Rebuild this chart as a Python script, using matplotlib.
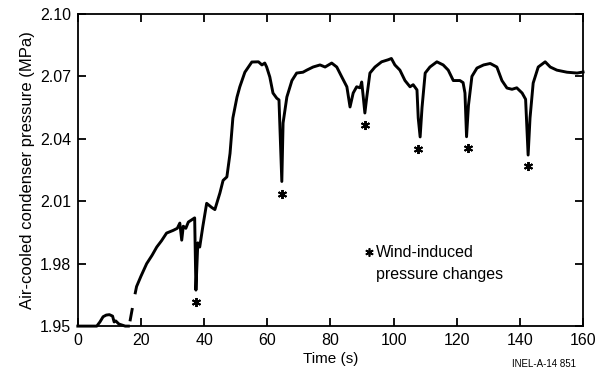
import numpy as np
import matplotlib.pyplot as plt

plt.rcParams['font.family'] = ['Liberation Sans', 'DejaVu Sans']

# time (s) and pressure (MPa); nan marks gaps in the scan
time_s = [0, 3, 6, 7, 8, 9, 10, 11, 11.5, 12, 13, 14, 15, 16,
          np.nan, 16.6, 17.2, np.nan, 18.2, 18.6,
          20, 21.8, 23.5, 25, 26.5, 28.1, 30.2, 31.5, 32.3, 32.9, 33.4, 34.2, 35, 36, 37, 37.4,
          38, 38.6, 39.6, 40.8, 42.4, 43.4, 45, 46, 47.2, 48.2, 49.1, 50.4, 51.3, 52.9,
          55.1, 57.2, 58.3, 59.2, 59.8, 60.8, 61.8, 63, 63.7, 64.6, 65, 66.2, 67.8, 69.3,
          71.3, 72.5, 74.5, 76.7, 78.3, 80.4, 82, 83.6, 85.2, 86.2, 87.2, 88.3, 89.4,
          89.9, 90.4, 90.9, 91.5, 92.5, 94.1, 96.2, 98.3, 99.3, 100.4, 102, 103.6, 105.2,
          106.2, 107.4, 107.8, 108.4, 109, 110, 111.5, 113.7, 115.7, 117.3, 118.9, 121,
          122, 122.6, 123.1, 123.7, 124.8, 126.4, 128.5, 130.6, 132.7, 134.3, 135.9,
          137.5, 139, 140.7, 141.8, 142.6, 143.2, 144.2, 145.8, 148, 149.6, 151.7, 154.9,
          158.1, 160]
pressure = [1.950, 1.950, 1.950, 1.952, 1.9545, 1.9553, 1.9555, 1.9548, 1.952, 1.9525, 1.951, 1.9505, 1.950, 1.950,
            np.nan, 1.953, 1.958, np.nan, 1.966, 1.969,
            1.974, 1.980, 1.984, 1.988, 1.991, 1.9947, 1.996, 1.997, 1.9995, 1.9913, 1.998, 1.997, 2.000, 2.001, 2.002, 1.9673,
            1.990, 1.988, 1.998, 2.009, 2.007, 2.006, 2.014, 2.020, 2.0217, 2.033, 2.050, 2.060, 2.065, 2.072,
            2.0769, 2.077, 2.0755, 2.0764, 2.0745, 2.0697, 2.062, 2.0595, 2.0587, 2.0195, 2.0476, 2.0601, 2.068, 2.0716,
            2.072, 2.073, 2.0745, 2.0755, 2.0745, 2.0764, 2.0745, 2.0697, 2.065, 2.0553, 2.062, 2.065, 2.0645,
            2.0673, 2.060, 2.0524, 2.060, 2.0716, 2.0745, 2.077, 2.078, 2.0786, 2.0755, 2.073, 2.068, 2.065,
            2.066, 2.0635, 2.050, 2.0409, 2.055, 2.0716, 2.0745, 2.077, 2.0755, 2.073, 2.068, 2.068,
            2.067, 2.062, 2.041, 2.056, 2.070, 2.074, 2.0755, 2.0762, 2.0745, 2.068, 2.0644,
            2.0638, 2.0645, 2.062, 2.059, 2.0322, 2.050, 2.0668, 2.0745, 2.077, 2.0745, 2.073, 2.072,
            2.0716, 2.0721]

# asterisks below each wind-induced dip
star_t = [37.4, 64.6, 90.9, 107.8, 123.5, 142.7]
star_p = [1.9615, 2.0135, 2.0466, 2.035, 2.0357, 2.0269]

fig = plt.figure(figsize=(6.08, 3.77), dpi=100)
ax = fig.add_axes([0.128, 0.135, 0.831, 0.828])
ax.plot(time_s, pressure, color='black', lw=2.1, clip_on=False, solid_joinstyle='round')
ax.plot(star_t, star_p, ls='none', marker=(6, 2, 0), color='black', ms=6.5, mew=1.4)

ax.set_xlim(0, 160)
ax.set_ylim(1.95, 2.10)
ax.set_xticks(range(0, 161, 20))
ax.set_yticks([1.95, 1.98, 2.01, 2.04, 2.07, 2.10])
ax.set_yticklabels(['1.95', '1.98', '2.01', '2.04', '2.07', '2.10'])
ax.tick_params(direction='in', top=True, right=True, length=6, width=1.3, labelsize=11.5, pad=5)
for s in ax.spines.values():
    s.set_linewidth(1.3)

ax.set_xlabel('Time (s)', fontsize=11, labelpad=3)
ax.set_ylabel('Air-cooled condenser pressure (MPa)', fontsize=12, labelpad=3)

ax.plot([92.3], [1.9855], marker=(6, 2, 0), color='black', ms=6, mew=1.2)
ax.text(94.3, 1.9855, 'Wind-induced', fontsize=11.5, va='center', ha='left')
ax.text(94.3, 1.9750, 'pressure changes', fontsize=11.5, va='center', ha='left')
fig.text(0.895, 0.035, 'INEL-A-14 851', fontsize=7, ha='center', va='center')

fig.savefig('out.png', dpi=100)
